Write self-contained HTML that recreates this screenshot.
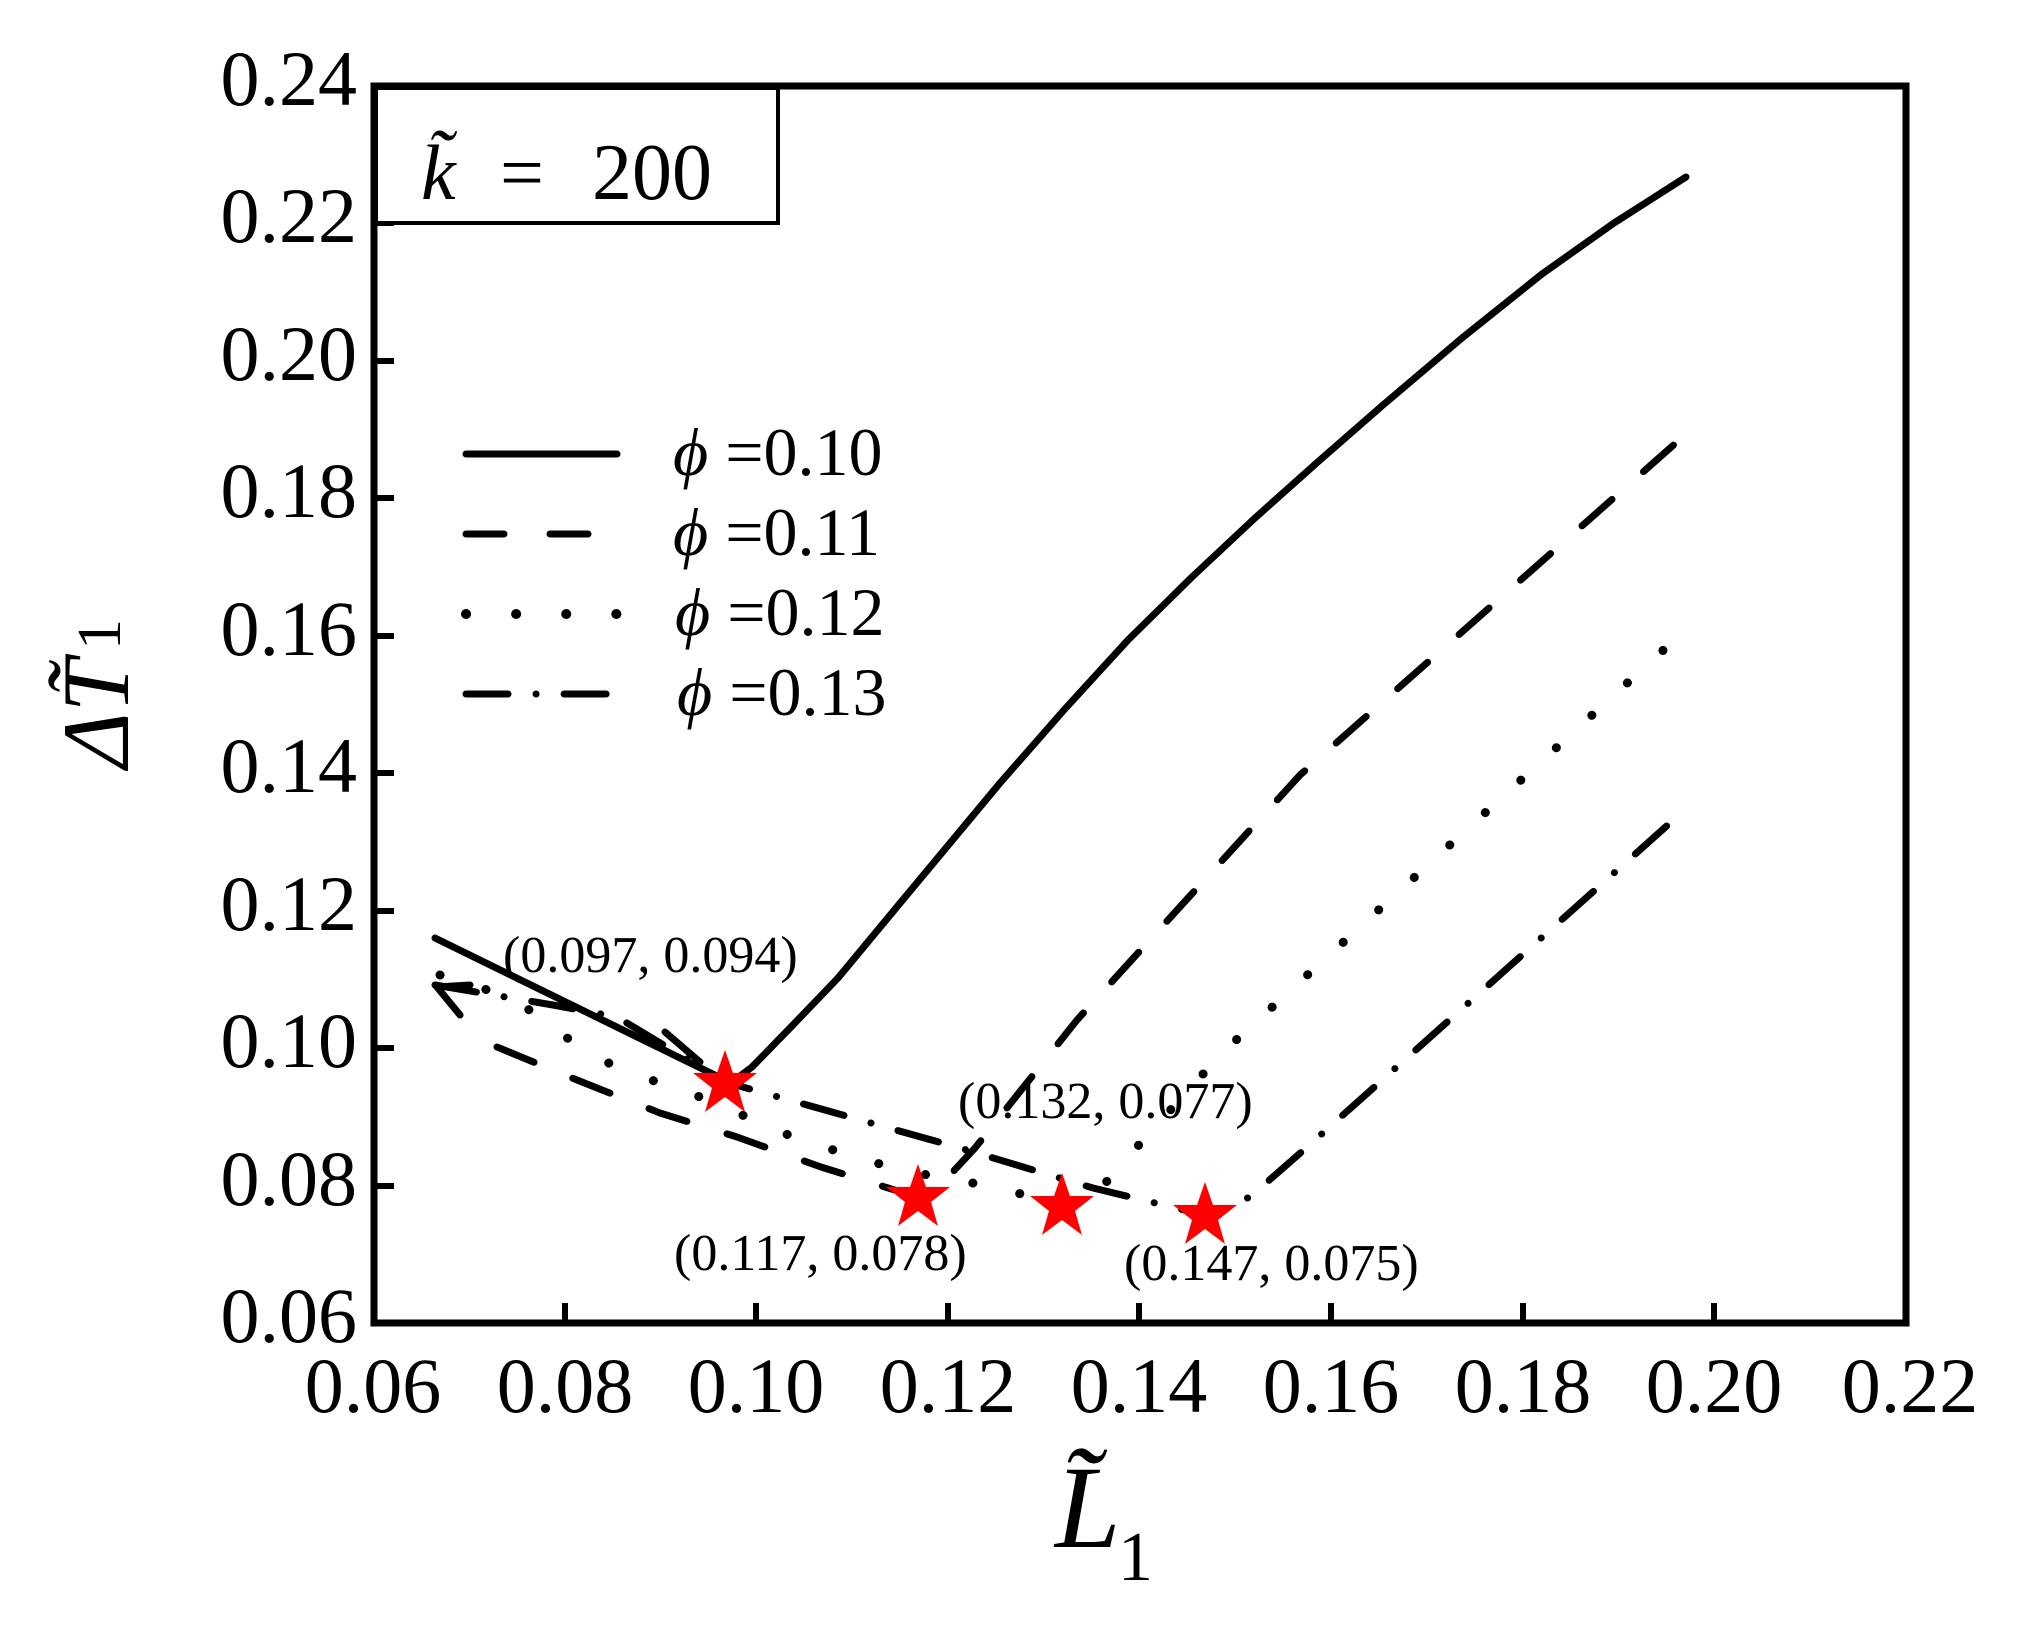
<!DOCTYPE html>
<html><head><meta charset="utf-8"><style>
html,body{margin:0;padding:0;background:#fff;}
svg{display:block;}
text{font-family:"Liberation Serif",serif;fill:#000;}
</style></head><body>
<svg width="2023" height="1627" viewBox="0 0 2023 1627" xmlns="http://www.w3.org/2000/svg">
<rect width="2023" height="1627" fill="#fff"/>
<g stroke="#000" stroke-width="6">
<line x1="565" y1="1323" x2="565" y2="1303"/>
<line x1="756" y1="1323" x2="756" y2="1303"/>
<line x1="948" y1="1323" x2="948" y2="1303"/>
<line x1="1139" y1="1323" x2="1139" y2="1303"/>
<line x1="1331" y1="1323" x2="1331" y2="1303"/>
<line x1="1523" y1="1323" x2="1523" y2="1303"/>
<line x1="1714" y1="1323" x2="1714" y2="1303"/>
<line x1="374" y1="1186" x2="394" y2="1186"/>
<line x1="374" y1="1048" x2="394" y2="1048"/>
<line x1="374" y1="911" x2="394" y2="911"/>
<line x1="374" y1="773" x2="394" y2="773"/>
<line x1="374" y1="636" x2="394" y2="636"/>
<line x1="374" y1="498" x2="394" y2="498"/>
<line x1="374" y1="361" x2="394" y2="361"/>
<line x1="374" y1="223" x2="394" y2="223"/>
</g>
<rect x="374" y="86" width="1532" height="1237" fill="none" stroke="#000" stroke-width="7"/>
<rect x="376" y="88" width="402" height="135" fill="#fff" stroke="#000" stroke-width="4"/>
<text x="421" y="199" font-size="78" font-style="italic">k̃</text>
<text x="500" y="199" font-size="78" style="font-family:'Liberation Serif',serif">=</text>
<text x="592" y="199" font-size="80" style="font-family:'Liberation Serif',serif">200</text>
<g font-size="78" text-anchor="end">
<text x="357" y="1342">0.06</text>
<text x="357" y="1205">0.08</text>
<text x="357" y="1067">0.10</text>
<text x="357" y="930">0.12</text>
<text x="357" y="792">0.14</text>
<text x="357" y="655">0.16</text>
<text x="357" y="517">0.18</text>
<text x="357" y="380">0.20</text>
<text x="357" y="242">0.22</text>
<text x="357" y="105">0.24</text>
</g>
<g font-size="78" text-anchor="middle">
<text x="373" y="1412">0.06</text>
<text x="565" y="1412">0.08</text>
<text x="756" y="1412">0.10</text>
<text x="948" y="1412">0.12</text>
<text x="1139" y="1412">0.14</text>
<text x="1331" y="1412">0.16</text>
<text x="1523" y="1412">0.18</text>
<text x="1714" y="1412">0.20</text>
<text x="1910" y="1412">0.22</text>
</g>
<text x="1055" y="1547" font-size="118" font-style="italic">L̃</text>
<text x="1118" y="1580" font-size="70">1</text>
<g transform="translate(128,768) rotate(-90)">
<text x="0" y="0" font-size="95" font-style="italic">ΔT̃</text>
<text x="118" y="-8" font-size="62">1</text>
</g>
<g stroke="#000" stroke-width="7" fill="none" stroke-linecap="round">
<line x1="466" y1="454" x2="617" y2="454"/>
<line x1="466" y1="534" x2="617" y2="534" stroke-dasharray="38 46"/>
<line x1="466" y1="614" x2="617" y2="614" stroke-dasharray="0.1 50" stroke-width="10"/>
<line x1="466" y1="694" x2="617" y2="694" stroke-dasharray="42 28 0.1 28"/>
</g>
<g font-size="68">
<text x="673" y="475"><tspan font-style="italic">ϕ</tspan> =0.10</text>
<text x="673" y="555"><tspan font-style="italic">ϕ</tspan> =0.11</text>
<text x="675" y="635"><tspan font-style="italic">ϕ</tspan> =0.12</text>
<text x="677" y="715"><tspan font-style="italic">ϕ</tspan> =0.13</text>
</g>
<g stroke="#000" stroke-width="7" fill="none" stroke-linecap="round" stroke-linejoin="round">
<polyline points="435,938 725,1080 740,1076 752,1067 790,1028 838,978 901,902 1000,783 1064,710 1128,640 1192,577 1255,518 1320,460 1383,405 1462,338 1542,274 1614,223 1686,177"/>
<polyline points="497,1047 577,1080 660,1113 737,1137 821,1167 917,1197 950,1175 975,1148 1077,1020 1300,775 1686,434" stroke-dasharray="40 42"/>
<polyline points="440,975 513,998 570,1040 617,1068 703,1098 800,1140 900,1170 995,1187 1062,1205 1095,1195 1127,1158 1223,1052 1670,644" stroke-dasharray="0.1 48" stroke-width="9"/>
<polyline points="435,985 553,1005 617,1017 725,1082 960,1148 1093,1188 1205,1215 1250,1197 1306,1148 1670,823" stroke-dasharray="42 28 0.1 28"/>
<polyline points="460,1015 437,987 470,985"/>
<line x1="665" y1="1032" x2="700" y2="1062"/>
</g>
<g fill="#ff0000">
<polygon transform="translate(725,1084)" points="0,-34 8,-11 32,-11 13,4 20,28 0,13 -20,28 -13,4 -32,-11 -8,-11"/>
<polygon transform="translate(918,1198)" points="0,-34 8,-11 32,-11 13,4 20,28 0,13 -20,28 -13,4 -32,-11 -8,-11"/>
<polygon transform="translate(1062,1207)" points="0,-34 8,-11 32,-11 13,4 20,28 0,13 -20,28 -13,4 -32,-11 -8,-11"/>
<polygon transform="translate(1205,1216)" points="0,-34 8,-11 32,-11 13,4 20,28 0,13 -20,28 -13,4 -32,-11 -8,-11"/>
</g>
<g font-size="52">
<text x="503" y="972">(0.097, 0.094)</text>
<text x="958" y="1118">(0.132, 0.077)</text>
<text x="674" y="1270">(0.117, 0.078)</text>
<text x="1124" y="1280">(0.147, 0.075)</text>
</g>
</svg>
</body></html>
